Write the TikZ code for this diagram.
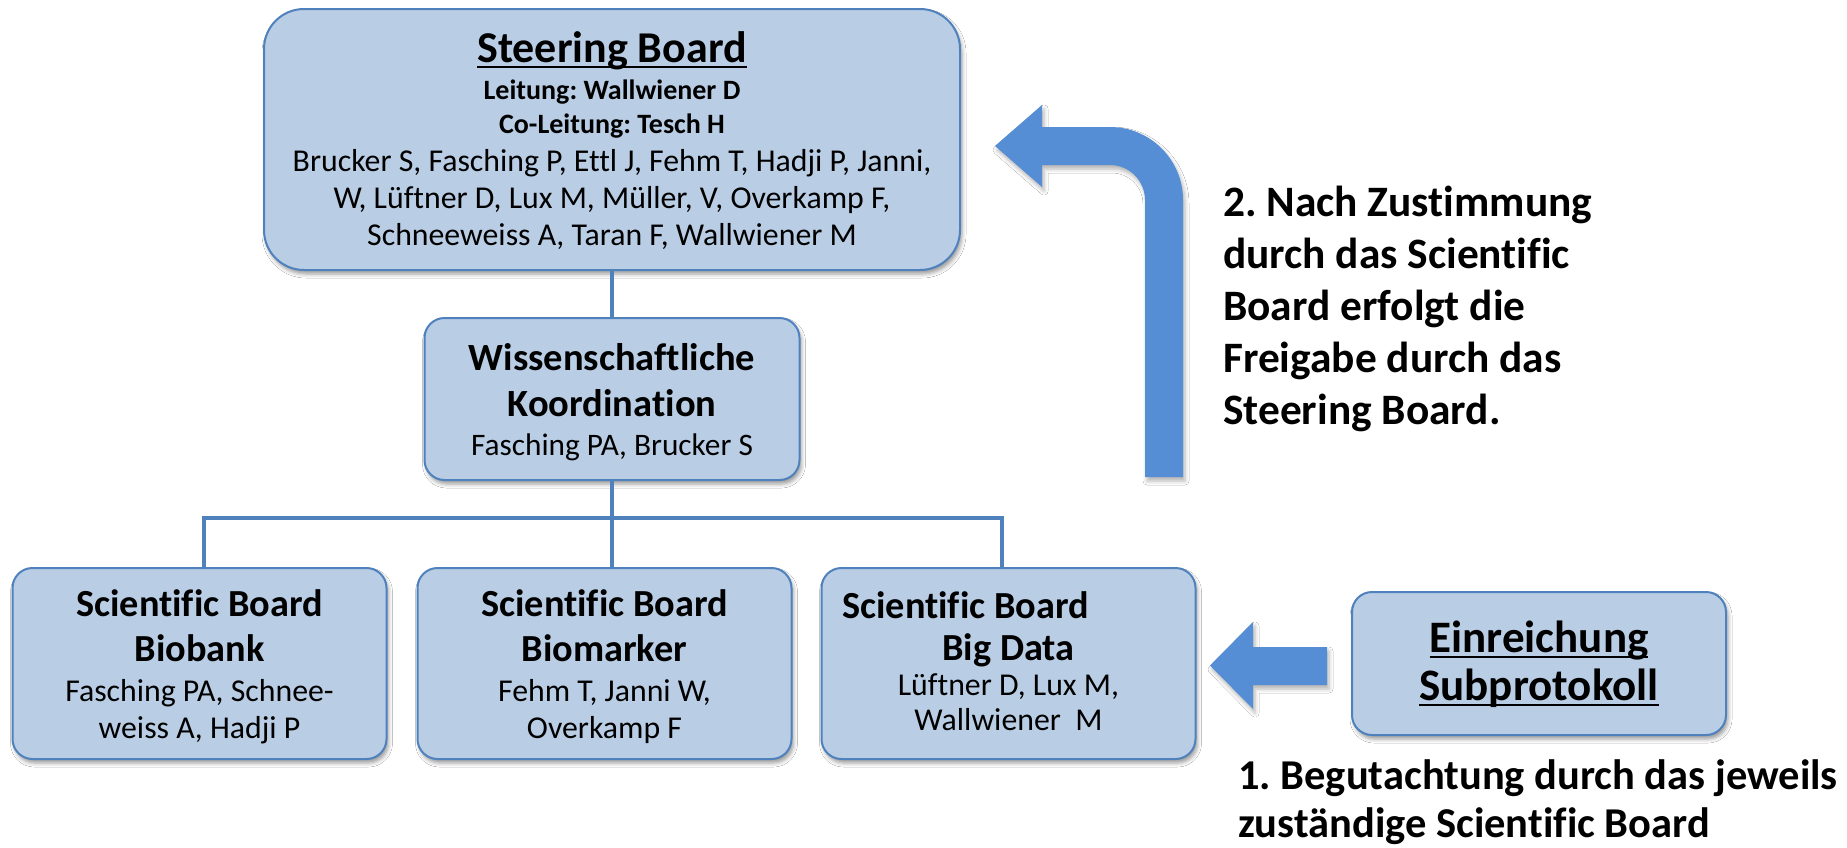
\documentclass[tikz,border=0pt]{standalone}
\usepackage{fontspec}
\setmainfont{Carlito}[Ligatures=CommonOff]
\usetikzlibrary{shadows.blur}
\definecolor{boxfill}{HTML}{B9CDE5}
\definecolor{boxline}{HTML}{4F81BD}
\definecolor{arrowfill}{HTML}{558ED5}
\definecolor{conncol}{HTML}{4F81BD}
\frenchspacing
\newcommand\ulx[1]{\setbox0\hbox{#1}\rlap{\rule[-6pt]{\wd0}{2.5pt}}\box0}
\newcommand\cl[3]{\baselineskip=#1pt\hbox to\hsize{\hss\fontsize{#2}{#2}\selectfont #3\hss}}
\newcommand\lline[1]{\hbox{#1}}
\newcommand\txtblock[2]{\vtop{\hsize=#1pt\lineskiplimit=-1000pt\lineskip=0pt #2}}
\begin{document}
\begin{tikzpicture}[x=1pt,y=-1pt,
  box/.style={draw=boxline, line width=2pt, fill=boxfill, rounded corners=20pt, inner sep=0pt,
    blur shadow={shadow xshift=2pt,shadow yshift=-4pt,shadow blur radius=4pt,shadow opacity=40}},
  sbox/.style={box, minimum width=374pt, minimum height=191pt},
  connline/.style={draw=conncol, line width=4.5pt},
  txt/.style={inner sep=0pt, anchor=base},
  bigarrow/.style={fill=arrowfill, draw=none,
    blur shadow={shadow xshift=2pt,shadow yshift=-4pt,shadow blur radius=4pt,shadow opacity=30}}]
\fill[white] (0,0) rectangle (1847,847);
\useasboundingbox (0,0) rectangle (1847,847);

% boxes
\node[box, rounded corners=40pt, minimum width=696pt, minimum height=261pt] (sb) at (612,139.5) {};
\node[box, minimum width=375pt, minimum height=162pt] (wk) at (612,399) {};
\node[sbox] (b1) at (199.5,663.5) {};
\node[sbox] (b2) at (604.5,663.5) {};
\node[sbox] (b3) at (1008.5,663.5) {};
\node[box, minimum width=374pt, minimum height=143pt] (ein) at (1539,663.5) {};

% connectors
\coordinate (j1) at (204,518);
\coordinate (j3) at (1002,518);
\draw[connline] (sb.south) -- (wk.north);
\draw[connline] (wk.south) -- (wk.south |- b2.north);
\draw[connline] (j1 |- b1.north) -- (j1) -- (j3) -- (j3 |- b3.north);

% texts
\node[txt] (sbt) at (612,62) {\txtblock{690}{%
 \cl{0}{44}{\bfseries\ulx{Steering Board}}%
 \cl{37}{28}{\bfseries Leitung: Wallwiener D}%
 \cl{34}{28}{\bfseries Co-Leitung: Tesch H}%
 \cl{38}{31.8}{Brucker S, Fasching P, Ettl J, Fehm T, Hadji P, Janni,}%
 \cl{37}{31.8}{W, Lüftner D, Lux M, Müller, V, Overkamp F,}%
 \cl{37}{31.8}{Schneeweiss A, Taran F, Wallwiener M}}};

\node[txt] (wkt) at (612,370) {\txtblock{370}{%
 \cl{0}{38.5}{\bfseries Wissenschaftliche}%
 \cl{46}{38.5}{\bfseries Koordination}%
 \cl{39}{31.3}{Fasching PA, Brucker S}}};

\node[txt] (b1t) at (199.5,616) {\txtblock{370}{%
 \cl{0}{38.3}{\bfseries Scientific Board}%
 \cl{45}{38.3}{\bfseries Biobank}%
 \cl{40}{31.8}{Fasching PA, Schnee-}%
 \cl{37}{31.8}{weiss A, Hadji P}}};

\node[txt] (b2t) at (604.5,616) {\txtblock{370}{%
 \cl{0}{38.3}{\bfseries Scientific Board}%
 \cl{45}{38.3}{\bfseries Biomarker}%
 \cl{40}{31.8}{Fehm T, Janni W,}%
 \cl{37}{31.8}{Overkamp F}}};

\node[txt] (b3t) at (1008.5,618) {\txtblock{370}{%
 \cl{0}{38.3}{\bfseries\kern-86pt Scientific Board}%
 \cl{42}{38.3}{\bfseries Big Data}%
 \cl{35}{31.8}{Lüftner D, Lux M,}%
 \cl{35}{31.8}{Wallwiener\ \ M}}};

\node[txt] (eint) at (1539,652) {\txtblock{370}{%
 \cl{0}{45}{\bfseries\ulx{Einreichung}}%
 \cl{48}{45}{\bfseries\ulx{Subprotokoll}}}};

\node[inner sep=0pt, anchor=base west] (note2) at (1223,216) {\vtop{\lineskiplimit=-1000pt\fontsize{43.4}{52}\selectfont\bfseries
 \lline{2. Nach Zustimmung}\lline{durch das Scientific}\lline{Board erfolgt die}\lline{Freigabe durch das}\lline{Steering Board.}}};

\node[inner sep=0pt, anchor=base west] (note1) at (1238,789) {\vtop{\lineskiplimit=-1000pt\fontsize{42.5}{48}\selectfont\bfseries
 \lline{1. Begutachtung durch das jeweils}\lline{zuständige Scientific Board}}};

% block arrows
\path[bigarrow] (995,146) -- (1042,105) -- (1042,127) -- (1110,127)
  .. controls (1150.3,127) and (1183,159.7) .. (1183,200) -- (1183,477) -- (1145,477) -- (1145,200)
  .. controls (1145,180.7) and (1129.3,165) .. (1110,165) -- (1042,165) -- (1042,187) -- cycle;
\path[bigarrow] (1210,665.5) -- (1253,622) -- (1253,647) -- (1327,647) -- (1327,685) -- (1253,685) -- (1253,709) -- cycle;
\end{tikzpicture}
\end{document}
